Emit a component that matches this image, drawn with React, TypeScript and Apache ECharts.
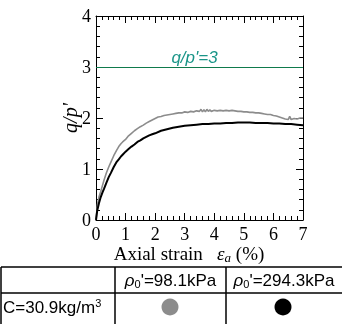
import React, { useEffect, useRef } from "react";
import * as echarts from "echarts";

const grayX = [0, 0.05, 0.1, 0.16, 0.2, 0.27, 0.35, 0.43, 0.5, 0.6, 0.7, 0.77, 0.85, 0.9, 1.0, 1.1, 1.2, 1.3, 1.4, 1.5, 1.6, 1.7, 1.8, 1.9, 2.0, 2.1, 2.2, 2.3, 2.4, 2.5, 2.6, 2.7, 2.8, 2.9, 3.0, 3.1, 3.2, 3.3, 3.4, 3.5, 3.55, 3.6, 3.65, 3.7, 3.75, 3.8, 3.85, 3.9, 4.0, 4.1, 4.2, 4.3, 4.4, 4.5, 4.6, 4.7, 4.8, 4.9, 5.0, 5.1, 5.2, 5.3, 5.4, 5.5, 5.6, 5.7, 5.8, 5.9, 6.0, 6.1, 6.2, 6.3, 6.4, 6.5, 6.55, 6.6, 6.7, 6.8, 6.9, 7.0];
const grayY = [0, 0.3, 0.45, 0.56, 0.64, 0.78, 0.92, 1.04, 1.13, 1.26, 1.37, 1.44, 1.5, 1.53, 1.58, 1.65, 1.7, 1.75, 1.79, 1.83, 1.86, 1.9, 1.93, 1.96, 1.99, 2.02, 2.03, 2.05, 2.06, 2.07, 2.08, 2.09, 2.1, 2.1, 2.12, 2.11, 2.13, 2.12, 2.14, 2.13, 2.17, 2.12, 2.16, 2.12, 2.17, 2.13, 2.16, 2.13, 2.15, 2.14, 2.15, 2.14, 2.15, 2.14, 2.15, 2.14, 2.13, 2.13, 2.12, 2.12, 2.11, 2.11, 2.1, 2.1, 2.09, 2.08, 2.07, 2.07, 2.05, 2.04, 2.02, 2.0, 1.98, 1.97, 2.03, 1.97, 1.99, 1.98, 2.0, 2.0];

const blackX = [0, 0.04, 0.1, 0.16, 0.22, 0.27, 0.35, 0.43, 0.5, 0.6, 0.7, 0.77, 0.85, 0.9, 1.0, 1.1, 1.2, 1.3, 1.4, 1.5, 1.6, 1.7, 1.8, 1.9, 2.0, 2.2, 2.4, 2.6, 2.8, 3.0, 3.2, 3.4, 3.6, 3.8, 4.0, 4.2, 4.4, 4.6, 4.8, 5.0, 5.2, 5.4, 5.6, 5.8, 6.0, 6.2, 6.4, 6.6, 6.8, 7.0];
const blackY = [0, 0.18, 0.33, 0.45, 0.54, 0.61, 0.73, 0.84, 0.92, 1.04, 1.14, 1.19, 1.25, 1.28, 1.34, 1.39, 1.44, 1.48, 1.53, 1.56, 1.6, 1.63, 1.66, 1.68, 1.7, 1.75, 1.78, 1.81, 1.83, 1.85, 1.86, 1.87, 1.88, 1.88, 1.89, 1.89, 1.9, 1.9, 1.91, 1.91, 1.91, 1.9, 1.9, 1.9, 1.89, 1.89, 1.88, 1.88, 1.87, 1.86];

const refLine = 3;
const tableHeaders = ["98.1kPa", "294.3kPa"];
const rowLabel = "C=30.9kg/m";

const SERIF = "'Liberation Serif', 'DejaVu Serif', serif";
const SANS = "'Liberation Sans', Arial, sans-serif";

export default function App() {
  const ref = useRef<HTMLDivElement>(null);
  useEffect(() => {
    if (!ref.current) return;
    const chart = echarts.init(ref.current, undefined, { renderer: "svg" });
    const axisCommon = {
      type: "value" as const,
      axisLine: { show: true, onZero: false, lineStyle: { color: "#000", width: 1 } },
      axisTick: { show: true, inside: true, length: 7, lineStyle: { color: "#000", width: 1 } },
      minorTick: { show: true, splitNumber: 5, length: 4, lineStyle: { color: "#000", width: 1 } },
      splitLine: { show: false },
      minorSplitLine: { show: false },
    };
    const hdrRich = {
      r: { fontFamily: SANS, fontSize: 17, fontStyle: "italic", color: "#000" },
      s: { fontFamily: SANS, fontSize: 11, color: "#000", padding: [8, 0, 0, 0] },
      n: { fontFamily: SANS, fontSize: 17, color: "#000" },
    };
    const top = 267;
    const mid = 293;
    const c1 = 1, c2 = 115, c3 = 226;
    const rowY = 307;
    chart.setOption({
      animation: false,
      grid: { left: 96, right: 39, top: 16, bottom: 104 },
      xAxis: [
        {
          ...axisCommon,
          position: "bottom",
          min: 0,
          max: 7,
          interval: 1,
          axisLabel: { show: true, fontFamily: SERIF, fontSize: 18, color: "#000", margin: 5 },
        },
        {
          ...axisCommon,
          position: "top",
          min: 0,
          max: 7,
          interval: 1,
          axisLabel: { show: false },
        },
      ],
      yAxis: [
        {
          ...axisCommon,
          position: "left",
          min: 0,
          max: 4,
          interval: 1,
          axisLabel: { show: true, fontFamily: SERIF, fontSize: 18, color: "#000", margin: 5 },
        },
        {
          ...axisCommon,
          position: "right",
          min: 0,
          max: 4,
          interval: 1,
          axisLabel: { show: false },
        },
      ],
      series: [
        {
          type: "line",
          data: grayX.map((x, i) => [x, grayY[i]]),
          showSymbol: false,
          lineStyle: { color: "#8c8c8c", width: 1.6 },
          z: 3,
          markLine: {
            silent: true,
            symbol: "none",
            data: [{ yAxis: refLine }],
            lineStyle: { color: "#0f7a4c", type: "solid", width: 1.2 },
            label: {
              show: true,
              position: "insideMiddleTop",
              formatter: "q/p'=3",
              fontFamily: SANS,
              fontSize: 17,
              fontStyle: "italic",
              color: "#1a9588",
              distance: 1,
              padding: [0, 10, 0, 0],
            },
          },
        },
        {
          type: "line",
          data: blackX.map((x, i) => [x, blackY[i]]),
          showSymbol: false,
          lineStyle: { color: "#000", width: 2 },
          z: 4,
        },
      ],
      graphic: [
        {
          type: "text",
          x: 70,
          y: 118,
          rotation: Math.PI / 2,
          style: {
            text: "q/p'",
            fontFamily: SERIF,
            fontSize: 20,
            fontStyle: "italic",
            fill: "#000",
            align: "center",
            verticalAlign: "middle",
          },
        },
        {
          type: "text",
          x: 189,
          y: 253,
          style: {
            text: "Axial strain   {e|ε}{a|a} (%)",
            fontFamily: SERIF,
            fontSize: 19,
            fill: "#000",
            align: "center",
            verticalAlign: "middle",
            rich: {
              e: { fontFamily: SERIF, fontSize: 19, fontStyle: "italic", color: "#000" },
              a: { fontFamily: SERIF, fontSize: 13, fontStyle: "italic", color: "#000", padding: [8, 0, 0, 0] },
            },
          },
        },
        { type: "line", shape: { x1: c1, y1: top, x2: 342, y2: top }, style: { stroke: "#000", lineWidth: 1.5 } },
        { type: "line", shape: { x1: c1, y1: mid, x2: 342, y2: mid }, style: { stroke: "#000", lineWidth: 1.5 } },
        { type: "line", shape: { x1: c1, y1: top, x2: c1, y2: 324 }, style: { stroke: "#000", lineWidth: 1.5 } },
        { type: "line", shape: { x1: c2, y1: top, x2: c2, y2: 324 }, style: { stroke: "#000", lineWidth: 1.5 } },
        { type: "line", shape: { x1: c3, y1: top, x2: c3, y2: 324 }, style: { stroke: "#000", lineWidth: 1.5 } },
        {
          type: "text",
          x: (c2 + c3) / 2,
          y: (top + mid) / 2,
          style: {
            text: "{r|ρ}{s|0}{n|'=" + tableHeaders[0] + "}",
            align: "center",
            verticalAlign: "middle",
            rich: hdrRich,
          },
        },
        {
          type: "text",
          x: (c3 + 342) / 2,
          y: (top + mid) / 2,
          style: {
            text: "{r|ρ}{s|0}{n|'=" + tableHeaders[1] + "}",
            align: "center",
            verticalAlign: "middle",
            rich: hdrRich,
          },
        },
        {
          type: "text",
          x: c1 + 2,
          y: rowY,
          style: {
            text: "{n|" + rowLabel + "}{p|3}",
            align: "left",
            verticalAlign: "middle",
            rich: {
              n: { fontFamily: SANS, fontSize: 17, color: "#000" },
              p: { fontFamily: SANS, fontSize: 11, color: "#000", padding: [0, 0, 8, 0] },
            },
          },
        },
        { type: "circle", shape: { cx: 170, cy: rowY, r: 8.5 }, style: { fill: "#8c8c8c" } },
        { type: "circle", shape: { cx: 283, cy: rowY, r: 8.5 }, style: { fill: "#000" } },
      ],
    });
    return () => chart.dispose();
  }, []);
  return <div ref={ref} style={{ position: "fixed", left: 0, top: 0, width: 342, height: 324 }} />;
}
